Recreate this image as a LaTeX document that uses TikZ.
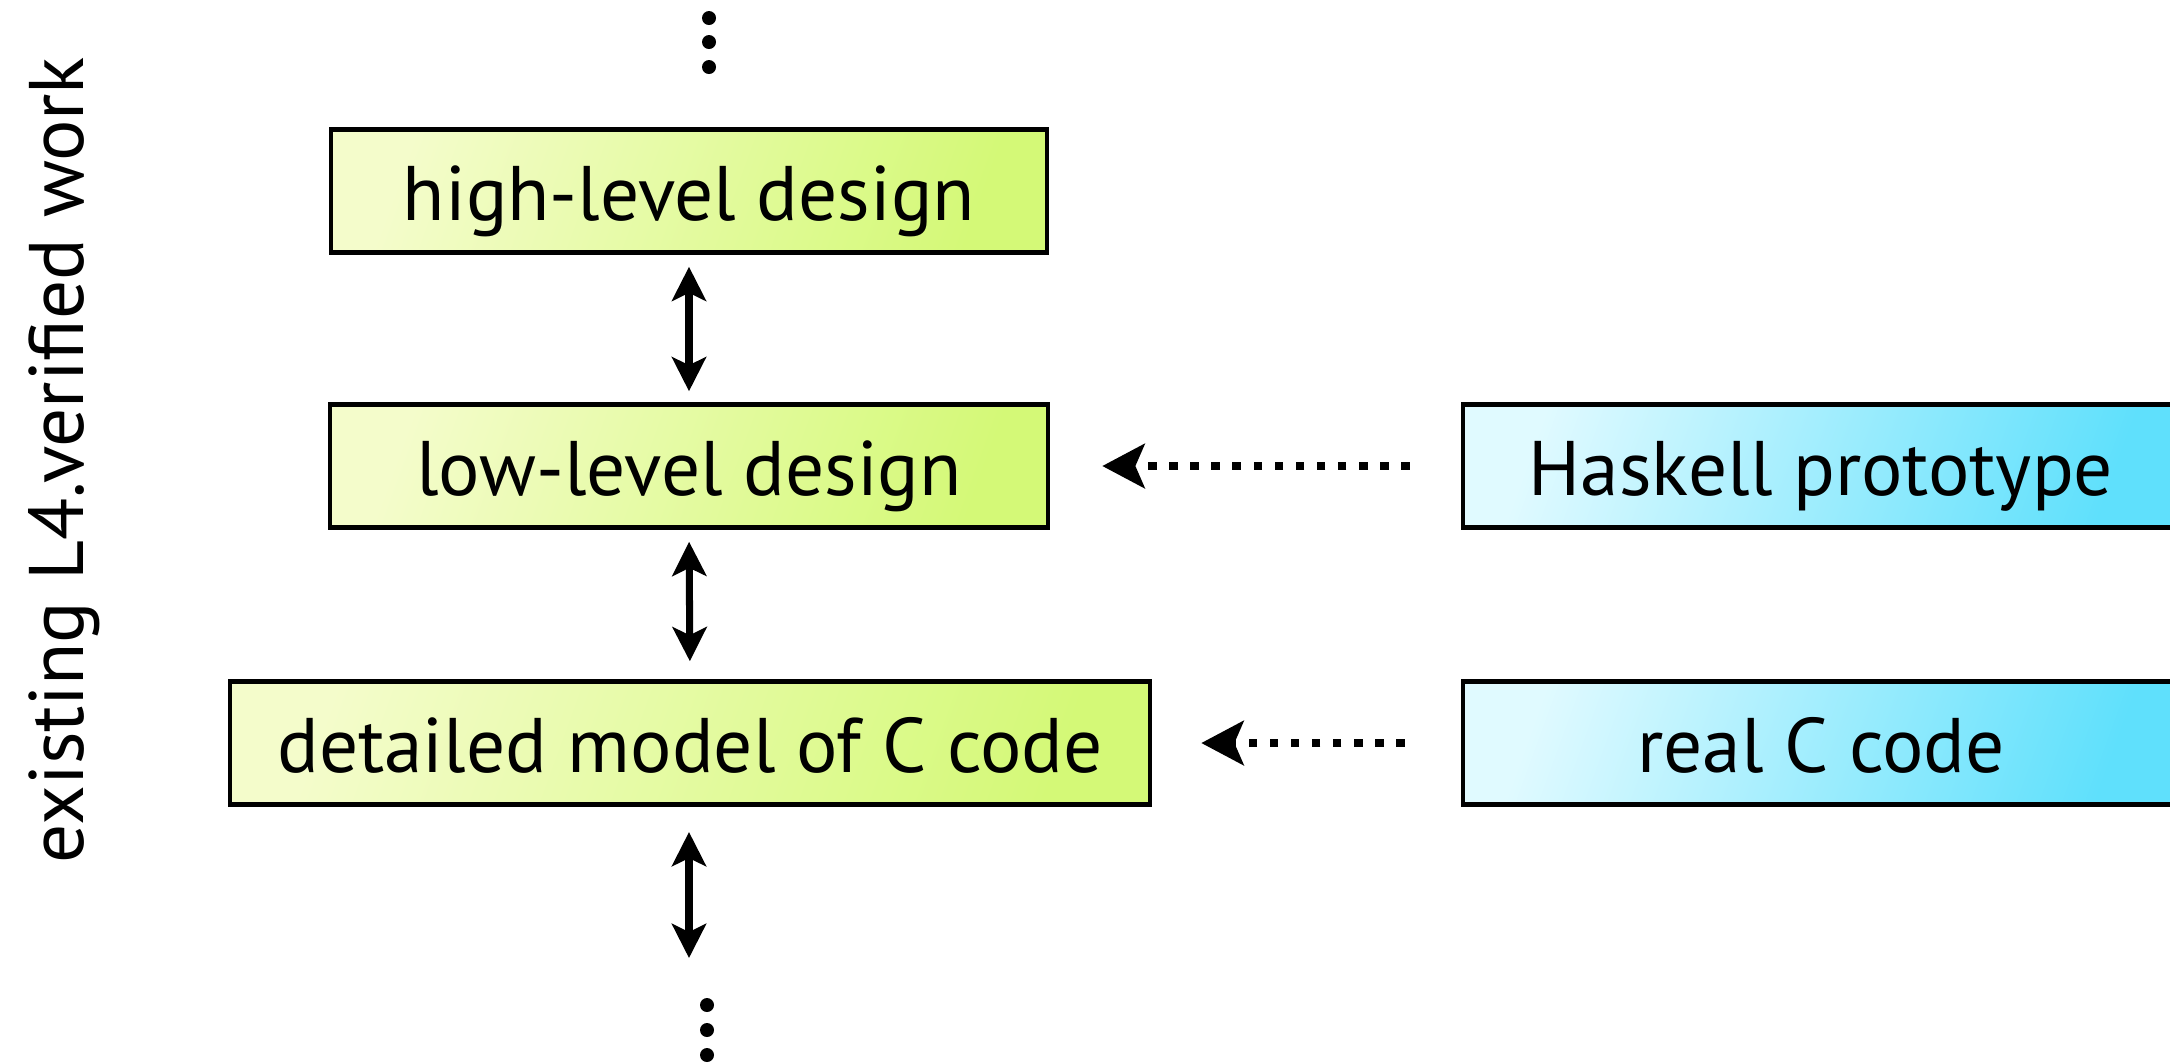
\documentclass[tikz,border=0pt]{standalone}
\usepackage{fontspec}
\setmainfont{PT Sans}
\usetikzlibrary{arrows.meta}
\definecolor{gA}{HTML}{F4FCCB}
\definecolor{gB}{HTML}{D4F977}
\definecolor{cA}{HTML}{E0FAFF}
\definecolor{cB}{HTML}{5FE0FC}
\begin{document}
\begin{tikzpicture}[x=0.01cm,y=-0.01cm,
  box/.style={draw=black,line width=1.3pt,inner sep=0pt,minimum height=123*0.01cm,
    text height=19.5pt,text depth=3pt,
    font=\fontsize{22}{26}\selectfont},
  greenbox/.style={box,left color=gA,right color=gB,shading angle=70},
  cyanbox/.style={box,left color=cA,right color=cB,shading angle=70},
  dbl/.style={line width=2pt,{Stealth[length=9.7pt,width=9.7pt,inset=2.3pt]}-{Stealth[length=9.7pt,width=9.7pt,inset=2.3pt]}},
  dotarrow/.style={line width=2.4pt,dash pattern=on 2.4pt off 3.6pt,-{Stealth[length=12pt,width=12.5pt,inset=2.6pt]}},
  dotmark/.style={circle,fill=black,inner sep=0pt,minimum size=14*0.01cm},
  side/.style={font=\fontsize{22}{26}\selectfont,rotate=90,inner sep=0pt}]
\clip (0,0) rectangle (2170,1062);
\node[greenbox,minimum width=716*0.01cm] (hl) at (689,191) {high-level design};
\node[greenbox,minimum width=718*0.01cm] (ll) at (689,466) {low-level design};
\node[greenbox,minimum width=920*0.01cm] (dm) at (690,743) {detailed model of C code};
\node[cyanbox,minimum width=716*0.01cm] (hs) at (1821,466) {Haskell prototype};
\node[cyanbox,minimum width=716*0.01cm] (rc) at (1821,743) {real C code};
\node[side] (lbl) at (64,460) {existing L4.verified work};
\node[dotmark] (t1) at (709,18) {};
\node[dotmark] (t2) at (709,42) {};
\node[dotmark] (t3) at (709,67) {};
\node[dotmark] (b1) at (707,1005) {};
\node[dotmark] (b2) at (707,1030) {};
\node[dotmark] (b3) at (707,1055) {};
\coordinate (up) at (689,832);
\coordinate (dn) at (689,958);
\draw[dbl,shorten <=12*0.01cm,shorten >=11*0.01cm] (hl.south) -- (ll.north);
\draw[dbl,shorten <=12*0.01cm,shorten >=18*0.01cm] (ll.south) -- (dm.north);
\draw[dbl] (up) -- (dn);
\draw[dotarrow,shorten <=51*0.01cm,shorten >=52*0.01cm] (hs.west) -- (ll.east);
\draw[dotarrow,shorten <=56*0.01cm,shorten >=49*0.01cm] (rc.west) -- (dm.east);
\end{tikzpicture}
\end{document}
